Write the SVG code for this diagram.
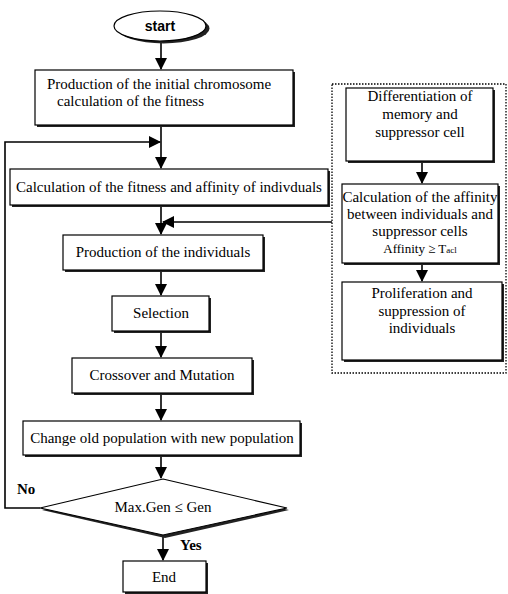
<svg xmlns="http://www.w3.org/2000/svg" width="508" height="594" viewBox="0 0 508 594">
<style>
.box{fill:#fff;stroke:#000;stroke-width:1.2}
.sh{fill:#222}
.t{font-family:"Liberation Serif","Times New Roman",serif;font-size:15px;fill:#000}
.c{text-anchor:middle}
.b{font-weight:bold}
.ln{fill:none;stroke:#000;stroke-width:1.6}
.dot{fill:none;stroke:#000;stroke-width:1.3;stroke-dasharray:1.5 1.5}
</style>
<defs>
<marker id="ah" markerWidth="12" markerHeight="12" refX="11" refY="6" orient="auto" markerUnits="userSpaceOnUse">
<path d="M0,0 L12,6 L0,12 Z" fill="#000"/>
</marker>
</defs>
<rect width="508" height="594" fill="#fff"/>

<g id="connectors">
<line class="ln" x1="161" y1="41" x2="161" y2="69" marker-end="url(#ah)"/>
<line class="ln" x1="161" y1="127" x2="161" y2="168" marker-end="url(#ah)"/>
<polyline class="ln" points="40,508 5,508 5,142 160,142" marker-end="url(#ah)"/>
<line class="ln" x1="161" y1="207" x2="161" y2="234" marker-end="url(#ah)"/>
<line class="ln" x1="332" y1="222" x2="163" y2="222" marker-end="url(#ah)"/>
<line class="ln" x1="161" y1="272" x2="161" y2="295" marker-end="url(#ah)"/>
<line class="ln" x1="161" y1="333" x2="161" y2="357" marker-end="url(#ah)"/>
<line class="ln" x1="161" y1="395" x2="161" y2="420" marker-end="url(#ah)"/>
<line class="ln" x1="161" y1="457" x2="161" y2="478" marker-end="url(#ah)"/>
<line class="ln" x1="163" y1="536" x2="163" y2="560" marker-end="url(#ah)"/>
<line class="ln" x1="422" y1="162" x2="422" y2="183" marker-end="url(#ah)"/>
<line class="ln" x1="422" y1="265" x2="422" y2="281" marker-end="url(#ah)"/>
</g>

<g id="group-immune">
<rect class="dot" x="332" y="84" width="174" height="289"/>
</g>

<g id="start">
<ellipse cx="162" cy="27" rx="46" ry="15" fill="#222" transform="translate(1.5,1.5)"/>
<ellipse cx="160" cy="26" rx="46" ry="15" fill="#fff" stroke="#000" stroke-width="1.2"/>
<text class="t c b" x="160" y="31" style="font-family:'Liberation Sans',Arial,sans-serif;font-size:14px">start</text>
</g>

<g id="init">
<rect class="sh" x="37" y="72" width="258" height="55"/>
<rect class="box" x="35" y="70" width="258" height="55"/>
<text class="t" x="47" y="89">Production of the initial chromosome</text>
<text class="t" x="57" y="106">calculation of the fitness</text>
</g>

<g id="calc">
<rect class="sh" x="12" y="171" width="318" height="36"/>
<rect class="box" x="10" y="169" width="318" height="36"/>
<text class="t c" x="169" y="192">Calculation of the fitness and affinity of indivduals</text>
</g>

<g id="prod">
<rect class="sh" x="65" y="237" width="200" height="35"/>
<rect class="box" x="63" y="235" width="200" height="35"/>
<text class="t c" x="163" y="257">Production of the individuals</text>
</g>

<g id="selection">
<rect class="sh" x="114" y="298" width="97" height="35"/>
<rect class="box" x="112" y="296" width="97" height="35"/>
<text class="t c" x="161" y="318">Selection</text>
</g>

<g id="crossover">
<rect class="sh" x="74" y="360" width="180" height="35"/>
<rect class="box" x="72" y="358" width="180" height="35"/>
<text class="t c" x="162" y="380">Crossover and Mutation</text>
</g>

<g id="change">
<rect class="sh" x="25" y="423" width="277" height="34"/>
<rect class="box" x="23" y="421" width="277" height="34"/>
<text class="t c" x="162" y="443">Change old population with new population</text>
</g>

<g id="decision">
<polygon points="165,481 289,510 165,538 42,510" fill="#222"/>
<polygon points="163,479 287,508 163,535 40,508" fill="#fff" stroke="#000" stroke-width="1.2"/>
<text class="t c" x="163" y="512">Max.Gen ≤ Gen</text>
<text class="t b" x="17" y="494">No</text>
<text class="t b" x="180" y="550">Yes</text>
</g>

<g id="end">
<rect class="sh" x="125" y="563" width="83" height="31"/>
<rect class="box" x="123" y="561" width="83" height="31"/>
<text class="t c" x="164" y="582">End</text>
</g>

<g id="diff">
<rect class="sh" x="348" y="90" width="147" height="73"/>
<rect class="box" x="346" y="88" width="147" height="73"/>
<text class="t c" x="420" y="101">Differentiation of</text>
<text class="t c" x="420" y="119">memory and</text>
<text class="t c" x="420" y="137">suppressor cell</text>
</g>

<g id="affinity">
<rect class="sh" x="344" y="186" width="156" height="79"/>
<rect class="box" x="342" y="184" width="156" height="79"/>
<text class="t c" x="420" y="202">Calculation of the affinity</text>
<text class="t c" x="420" y="219">between individuals and</text>
<text class="t c" x="420" y="236">suppressor cells</text>
<text class="t c" x="420" y="253" style="font-size:13px">Affinity ≥ T<tspan style="font-size:9px">acl</tspan></text>
</g>

<g id="prolif">
<rect class="sh" x="344" y="284" width="160" height="78"/>
<rect class="box" x="342" y="282" width="160" height="78"/>
<text class="t c" x="422" y="298">Proliferation and</text>
<text class="t c" x="422" y="316">suppression of</text>
<text class="t c" x="422" y="333">individuals</text>
</g>
</svg>
